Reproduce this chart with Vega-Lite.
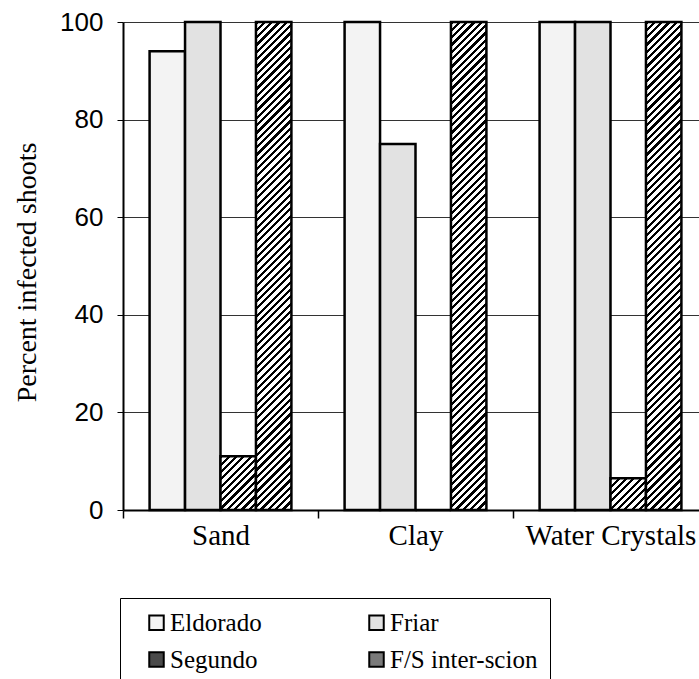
{
  "$schema": "https://vega.github.io/schema/vega-lite/v6.json",
  "width": 576,
  "height": 488,
  "autosize": {"type": "none"},
  "padding": {"left": 123, "top": 22, "right": 0, "bottom": 169},
  "background": "white",
  "config": {"view": {"stroke": null}, "font": "Times New Roman"},
  "data": {
    "values": [
      {"medium": "Sand", "variety": "Eldorado", "value": 94},
      {"medium": "Sand", "variety": "Friar", "value": 100},
      {"medium": "Sand", "variety": "Segundo", "value": 11},
      {"medium": "Sand", "variety": "F/S inter-scion", "value": 100},
      {"medium": "Clay", "variety": "Eldorado", "value": 100},
      {"medium": "Clay", "variety": "Friar", "value": 75},
      {"medium": "Clay", "variety": "Segundo", "value": 0},
      {"medium": "Clay", "variety": "F/S inter-scion", "value": 100},
      {"medium": "Water Crystals", "variety": "Eldorado", "value": 100},
      {"medium": "Water Crystals", "variety": "Friar", "value": 100},
      {"medium": "Water Crystals", "variety": "Segundo", "value": 6.5},
      {"medium": "Water Crystals", "variety": "F/S inter-scion", "value": 100}
    ]
  },
  "mark": {"type": "bar", "stroke": "black", "strokeWidth": 2.5},
  "encoding": {
    "x": {
      "field": "medium", "type": "nominal",
      "sort": ["Sand", "Clay", "Water Crystals"],
      "scale": {"range": [0, 585], "paddingInner": 0, "paddingOuter": 0},
      "axis": {
        "title": null, "labelAngle": 0, "tickBand": "extent",
        "domainColor": "black", "domainWidth": 2,
        "tickColor": "black", "tickWidth": 1.5, "tickSize": 8,
        "labelFont": "Times New Roman", "labelFontSize": 29, "labelColor": "black",
        "labelPadding": 3, "grid": false
      }
    },
    "xOffset": {
      "field": "variety", "type": "nominal",
      "sort": ["Eldorado", "Friar", "Segundo", "F/S inter-scion"],
      "scale": {"paddingInner": 0, "paddingOuter": 0.75}
    },
    "y": {
      "field": "value", "type": "quantitative",
      "scale": {"domain": [0, 100]},
      "axis": {
        "title": "Percent infected shoots",
        "titleFont": "Times New Roman", "titleFontSize": 28, "titleFontWeight": "normal",
        "titleColor": "black", "titleAngle": 270, "titleX": -96, "titleY": 250,
        "titleAlign": "center", "titleBaseline": "middle",
        "values": [0, 20, 40, 60, 80, 100],
        "labelFont": "Arial", "labelFontSize": 26, "labelColor": "black",
        "labelPadding": 14, "tickSize": 6, "tickColor": "black", "tickWidth": 1,
        "domainColor": "black", "domainWidth": 2,
        "grid": true, "gridColor": "#333", "gridWidth": 1
      }
    },
    "fill": {
      "field": "variety", "type": "nominal",
      "sort": ["Eldorado", "Friar", "Segundo", "F/S inter-scion"],
      "scale": {
        "domain": ["Eldorado", "Friar", "Segundo", "F/S inter-scion"],
        "range": ["#f3f3f3", "#e2e2e2", "#4a4a4a", "#7a7a7a"]
      },
      "condition": [
        {"test": "datum.variety === 'F/S inter-scion'", "value": {"gradient": "linear", "x1": 0, "y1": 0, "x2": 0.0775, "y2": 1.067, "stops": [
          {"offset":0,"color":"#000"},{"offset":0.006,"color":"#000"},{"offset":0.006,"color":"#fff"},{"offset":0.014,"color":"#fff"},
          {"offset":0.014,"color":"#000"},{"offset":0.02,"color":"#000"},{"offset":0.02,"color":"#fff"},{"offset":0.028,"color":"#fff"},
          {"offset":0.028,"color":"#000"},{"offset":0.034,"color":"#000"},{"offset":0.034,"color":"#fff"},{"offset":0.042,"color":"#fff"},
          {"offset":0.042,"color":"#000"},{"offset":0.048,"color":"#000"},{"offset":0.048,"color":"#fff"},{"offset":0.056,"color":"#fff"},
          {"offset":0.056,"color":"#000"},{"offset":0.062,"color":"#000"},{"offset":0.062,"color":"#fff"},{"offset":0.07,"color":"#fff"},
          {"offset":0.07,"color":"#000"},{"offset":0.076,"color":"#000"},{"offset":0.076,"color":"#fff"},{"offset":0.084,"color":"#fff"},
          {"offset":0.084,"color":"#000"},{"offset":0.09,"color":"#000"},{"offset":0.09,"color":"#fff"},{"offset":0.098,"color":"#fff"},
          {"offset":0.098,"color":"#000"},{"offset":0.104,"color":"#000"},{"offset":0.104,"color":"#fff"},{"offset":0.112,"color":"#fff"},
          {"offset":0.112,"color":"#000"},{"offset":0.118,"color":"#000"},{"offset":0.118,"color":"#fff"},{"offset":0.126,"color":"#fff"},
          {"offset":0.126,"color":"#000"},{"offset":0.132,"color":"#000"},{"offset":0.132,"color":"#fff"},{"offset":0.14,"color":"#fff"},
          {"offset":0.14,"color":"#000"},{"offset":0.146,"color":"#000"},{"offset":0.146,"color":"#fff"},{"offset":0.154,"color":"#fff"},
          {"offset":0.154,"color":"#000"},{"offset":0.16,"color":"#000"},{"offset":0.16,"color":"#fff"},{"offset":0.168,"color":"#fff"},
          {"offset":0.168,"color":"#000"},{"offset":0.174,"color":"#000"},{"offset":0.174,"color":"#fff"},{"offset":0.182,"color":"#fff"},
          {"offset":0.182,"color":"#000"},{"offset":0.188,"color":"#000"},{"offset":0.188,"color":"#fff"},{"offset":0.196,"color":"#fff"},
          {"offset":0.196,"color":"#000"},{"offset":0.202,"color":"#000"},{"offset":0.202,"color":"#fff"},{"offset":0.21,"color":"#fff"},
          {"offset":0.21,"color":"#000"},{"offset":0.216,"color":"#000"},{"offset":0.216,"color":"#fff"},{"offset":0.224,"color":"#fff"},
          {"offset":0.224,"color":"#000"},{"offset":0.23,"color":"#000"},{"offset":0.23,"color":"#fff"},{"offset":0.238,"color":"#fff"},
          {"offset":0.238,"color":"#000"},{"offset":0.244,"color":"#000"},{"offset":0.244,"color":"#fff"},{"offset":0.252,"color":"#fff"},
          {"offset":0.252,"color":"#000"},{"offset":0.258,"color":"#000"},{"offset":0.258,"color":"#fff"},{"offset":0.266,"color":"#fff"},
          {"offset":0.266,"color":"#000"},{"offset":0.272,"color":"#000"},{"offset":0.272,"color":"#fff"},{"offset":0.28,"color":"#fff"},
          {"offset":0.28,"color":"#000"},{"offset":0.286,"color":"#000"},{"offset":0.286,"color":"#fff"},{"offset":0.294,"color":"#fff"},
          {"offset":0.294,"color":"#000"},{"offset":0.3,"color":"#000"},{"offset":0.3,"color":"#fff"},{"offset":0.308,"color":"#fff"},
          {"offset":0.308,"color":"#000"},{"offset":0.314,"color":"#000"},{"offset":0.314,"color":"#fff"},{"offset":0.322,"color":"#fff"},
          {"offset":0.322,"color":"#000"},{"offset":0.328,"color":"#000"},{"offset":0.328,"color":"#fff"},{"offset":0.336,"color":"#fff"},
          {"offset":0.336,"color":"#000"},{"offset":0.342,"color":"#000"},{"offset":0.342,"color":"#fff"},{"offset":0.35,"color":"#fff"},
          {"offset":0.35,"color":"#000"},{"offset":0.356,"color":"#000"},{"offset":0.356,"color":"#fff"},{"offset":0.364,"color":"#fff"},
          {"offset":0.364,"color":"#000"},{"offset":0.37,"color":"#000"},{"offset":0.37,"color":"#fff"},{"offset":0.378,"color":"#fff"},
          {"offset":0.378,"color":"#000"},{"offset":0.384,"color":"#000"},{"offset":0.384,"color":"#fff"},{"offset":0.392,"color":"#fff"},
          {"offset":0.392,"color":"#000"},{"offset":0.398,"color":"#000"},{"offset":0.398,"color":"#fff"},{"offset":0.406,"color":"#fff"},
          {"offset":0.406,"color":"#000"},{"offset":0.412,"color":"#000"},{"offset":0.412,"color":"#fff"},{"offset":0.42,"color":"#fff"},
          {"offset":0.42,"color":"#000"},{"offset":0.426,"color":"#000"},{"offset":0.426,"color":"#fff"},{"offset":0.434,"color":"#fff"},
          {"offset":0.434,"color":"#000"},{"offset":0.44,"color":"#000"},{"offset":0.44,"color":"#fff"},{"offset":0.448,"color":"#fff"},
          {"offset":0.448,"color":"#000"},{"offset":0.454,"color":"#000"},{"offset":0.454,"color":"#fff"},{"offset":0.462,"color":"#fff"},
          {"offset":0.462,"color":"#000"},{"offset":0.468,"color":"#000"},{"offset":0.468,"color":"#fff"},{"offset":0.476,"color":"#fff"},
          {"offset":0.476,"color":"#000"},{"offset":0.482,"color":"#000"},{"offset":0.482,"color":"#fff"},{"offset":0.49,"color":"#fff"},
          {"offset":0.49,"color":"#000"},{"offset":0.496,"color":"#000"},{"offset":0.496,"color":"#fff"},{"offset":0.504,"color":"#fff"},
          {"offset":0.504,"color":"#000"},{"offset":0.51,"color":"#000"},{"offset":0.51,"color":"#fff"},{"offset":0.518,"color":"#fff"},
          {"offset":0.518,"color":"#000"},{"offset":0.524,"color":"#000"},{"offset":0.524,"color":"#fff"},{"offset":0.532,"color":"#fff"},
          {"offset":0.532,"color":"#000"},{"offset":0.538,"color":"#000"},{"offset":0.538,"color":"#fff"},{"offset":0.546,"color":"#fff"},
          {"offset":0.546,"color":"#000"},{"offset":0.552,"color":"#000"},{"offset":0.552,"color":"#fff"},{"offset":0.56,"color":"#fff"},
          {"offset":0.56,"color":"#000"},{"offset":0.566,"color":"#000"},{"offset":0.566,"color":"#fff"},{"offset":0.574,"color":"#fff"},
          {"offset":0.574,"color":"#000"},{"offset":0.58,"color":"#000"},{"offset":0.58,"color":"#fff"},{"offset":0.588,"color":"#fff"},
          {"offset":0.588,"color":"#000"},{"offset":0.594,"color":"#000"},{"offset":0.594,"color":"#fff"},{"offset":0.602,"color":"#fff"},
          {"offset":0.602,"color":"#000"},{"offset":0.608,"color":"#000"},{"offset":0.608,"color":"#fff"},{"offset":0.616,"color":"#fff"},
          {"offset":0.616,"color":"#000"},{"offset":0.622,"color":"#000"},{"offset":0.622,"color":"#fff"},{"offset":0.63,"color":"#fff"},
          {"offset":0.63,"color":"#000"},{"offset":0.636,"color":"#000"},{"offset":0.636,"color":"#fff"},{"offset":0.644,"color":"#fff"},
          {"offset":0.644,"color":"#000"},{"offset":0.65,"color":"#000"},{"offset":0.65,"color":"#fff"},{"offset":0.658,"color":"#fff"},
          {"offset":0.658,"color":"#000"},{"offset":0.664,"color":"#000"},{"offset":0.664,"color":"#fff"},{"offset":0.672,"color":"#fff"},
          {"offset":0.672,"color":"#000"},{"offset":0.678,"color":"#000"},{"offset":0.678,"color":"#fff"},{"offset":0.686,"color":"#fff"},
          {"offset":0.686,"color":"#000"},{"offset":0.692,"color":"#000"},{"offset":0.692,"color":"#fff"},{"offset":0.7,"color":"#fff"},
          {"offset":0.7,"color":"#000"},{"offset":0.706,"color":"#000"},{"offset":0.706,"color":"#fff"},{"offset":0.714,"color":"#fff"},
          {"offset":0.714,"color":"#000"},{"offset":0.72,"color":"#000"},{"offset":0.72,"color":"#fff"},{"offset":0.728,"color":"#fff"},
          {"offset":0.728,"color":"#000"},{"offset":0.734,"color":"#000"},{"offset":0.734,"color":"#fff"},{"offset":0.742,"color":"#fff"},
          {"offset":0.742,"color":"#000"},{"offset":0.748,"color":"#000"},{"offset":0.748,"color":"#fff"},{"offset":0.756,"color":"#fff"},
          {"offset":0.756,"color":"#000"},{"offset":0.762,"color":"#000"},{"offset":0.762,"color":"#fff"},{"offset":0.77,"color":"#fff"},
          {"offset":0.77,"color":"#000"},{"offset":0.776,"color":"#000"},{"offset":0.776,"color":"#fff"},{"offset":0.784,"color":"#fff"},
          {"offset":0.784,"color":"#000"},{"offset":0.79,"color":"#000"},{"offset":0.79,"color":"#fff"},{"offset":0.798,"color":"#fff"},
          {"offset":0.798,"color":"#000"},{"offset":0.804,"color":"#000"},{"offset":0.804,"color":"#fff"},{"offset":0.812,"color":"#fff"},
          {"offset":0.812,"color":"#000"},{"offset":0.818,"color":"#000"},{"offset":0.818,"color":"#fff"},{"offset":0.826,"color":"#fff"},
          {"offset":0.826,"color":"#000"},{"offset":0.832,"color":"#000"},{"offset":0.832,"color":"#fff"},{"offset":0.84,"color":"#fff"},
          {"offset":0.84,"color":"#000"},{"offset":0.846,"color":"#000"},{"offset":0.846,"color":"#fff"},{"offset":0.854,"color":"#fff"},
          {"offset":0.854,"color":"#000"},{"offset":0.86,"color":"#000"},{"offset":0.86,"color":"#fff"},{"offset":0.868,"color":"#fff"},
          {"offset":0.868,"color":"#000"},{"offset":0.874,"color":"#000"},{"offset":0.874,"color":"#fff"},{"offset":0.882,"color":"#fff"},
          {"offset":0.882,"color":"#000"},{"offset":0.888,"color":"#000"},{"offset":0.888,"color":"#fff"},{"offset":0.896,"color":"#fff"},
          {"offset":0.896,"color":"#000"},{"offset":0.902,"color":"#000"},{"offset":0.902,"color":"#fff"},{"offset":0.91,"color":"#fff"},
          {"offset":0.91,"color":"#000"},{"offset":0.916,"color":"#000"},{"offset":0.916,"color":"#fff"},{"offset":0.924,"color":"#fff"},
          {"offset":0.924,"color":"#000"},{"offset":0.93,"color":"#000"},{"offset":0.93,"color":"#fff"},{"offset":0.938,"color":"#fff"},
          {"offset":0.938,"color":"#000"},{"offset":0.944,"color":"#000"},{"offset":0.944,"color":"#fff"},{"offset":0.952,"color":"#fff"},
          {"offset":0.952,"color":"#000"},{"offset":0.958,"color":"#000"},{"offset":0.958,"color":"#fff"},{"offset":0.966,"color":"#fff"},
          {"offset":0.966,"color":"#000"},{"offset":0.972,"color":"#000"},{"offset":0.972,"color":"#fff"},{"offset":0.98,"color":"#fff"},
          {"offset":0.98,"color":"#000"},{"offset":0.986,"color":"#000"},{"offset":0.986,"color":"#fff"},{"offset":0.994,"color":"#fff"},
          {"offset":0.994,"color":"#000"},{"offset":1,"color":"#000"}
        ]}},
        {"test": "datum.variety === 'Segundo' && datum.value > 8", "value": {"gradient": "linear", "x1": 0, "y1": 0, "x2": 0.7636, "y2": 1.1562, "stops": [
          {"offset":0,"color":"#000"},{"offset":0.035,"color":"#000"},{"offset":0.035,"color":"#fff"},{"offset":0.082,"color":"#fff"},
          {"offset":0.082,"color":"#000"},{"offset":0.117,"color":"#000"},{"offset":0.117,"color":"#fff"},{"offset":0.164,"color":"#fff"},
          {"offset":0.164,"color":"#000"},{"offset":0.199,"color":"#000"},{"offset":0.199,"color":"#fff"},{"offset":0.246,"color":"#fff"},
          {"offset":0.246,"color":"#000"},{"offset":0.281,"color":"#000"},{"offset":0.281,"color":"#fff"},{"offset":0.328,"color":"#fff"},
          {"offset":0.328,"color":"#000"},{"offset":0.363,"color":"#000"},{"offset":0.363,"color":"#fff"},{"offset":0.41,"color":"#fff"},
          {"offset":0.41,"color":"#000"},{"offset":0.445,"color":"#000"},{"offset":0.445,"color":"#fff"},{"offset":0.492,"color":"#fff"},
          {"offset":0.492,"color":"#000"},{"offset":0.527,"color":"#000"},{"offset":0.527,"color":"#fff"},{"offset":0.574,"color":"#fff"},
          {"offset":0.574,"color":"#000"},{"offset":0.609,"color":"#000"},{"offset":0.609,"color":"#fff"},{"offset":0.656,"color":"#fff"},
          {"offset":0.656,"color":"#000"},{"offset":0.691,"color":"#000"},{"offset":0.691,"color":"#fff"},{"offset":0.738,"color":"#fff"},
          {"offset":0.738,"color":"#000"},{"offset":0.773,"color":"#000"},{"offset":0.773,"color":"#fff"},{"offset":0.82,"color":"#fff"},
          {"offset":0.82,"color":"#000"},{"offset":0.855,"color":"#000"},{"offset":0.855,"color":"#fff"},{"offset":0.902,"color":"#fff"},
          {"offset":0.902,"color":"#000"},{"offset":0.937,"color":"#000"},{"offset":0.937,"color":"#fff"},{"offset":0.984,"color":"#fff"},
          {"offset":0.984,"color":"#000"},{"offset":1,"color":"#000"}
        ]}},
        {"test": "datum.variety === 'Segundo'", "value": {"gradient": "linear", "x1": 0, "y1": 0, "x2": 1.0523, "y2": 0.9416, "stops": [
          {"offset":0,"color":"#000"},{"offset":0.047,"color":"#000"},{"offset":0.047,"color":"#fff"},{"offset":0.109,"color":"#fff"},
          {"offset":0.109,"color":"#000"},{"offset":0.156,"color":"#000"},{"offset":0.156,"color":"#fff"},{"offset":0.218,"color":"#fff"},
          {"offset":0.218,"color":"#000"},{"offset":0.265,"color":"#000"},{"offset":0.265,"color":"#fff"},{"offset":0.327,"color":"#fff"},
          {"offset":0.327,"color":"#000"},{"offset":0.374,"color":"#000"},{"offset":0.374,"color":"#fff"},{"offset":0.436,"color":"#fff"},
          {"offset":0.436,"color":"#000"},{"offset":0.483,"color":"#000"},{"offset":0.483,"color":"#fff"},{"offset":0.545,"color":"#fff"},
          {"offset":0.545,"color":"#000"},{"offset":0.592,"color":"#000"},{"offset":0.592,"color":"#fff"},{"offset":0.654,"color":"#fff"},
          {"offset":0.654,"color":"#000"},{"offset":0.701,"color":"#000"},{"offset":0.701,"color":"#fff"},{"offset":0.763,"color":"#fff"},
          {"offset":0.763,"color":"#000"},{"offset":0.81,"color":"#000"},{"offset":0.81,"color":"#fff"},{"offset":0.872,"color":"#fff"},
          {"offset":0.872,"color":"#000"},{"offset":0.919,"color":"#000"},{"offset":0.919,"color":"#fff"},{"offset":0.981,"color":"#fff"},
          {"offset":0.981,"color":"#000"},{"offset":1,"color":"#000"}
        ]}}
      ],
      "legend": {
        "title": null, "orient": "none", "legendX": -3, "legendY": 576,
        "direction": "horizontal", "columns": 2, "columnPadding": 90, "rowPadding": 11,
        "padding": 12, "strokeColor": "black", "fillColor": "white",
        "symbolType": "square", "symbolSize": 210, "symbolStrokeColor": "black",
        "symbolStrokeWidth": 2, "symbolOffset": 12, "labelOffset": 1,
        "labelFont": "Times New Roman", "labelFontSize": 25, "labelColor": "black",
        "labelLimit": 300
      }
    }
  }
}
